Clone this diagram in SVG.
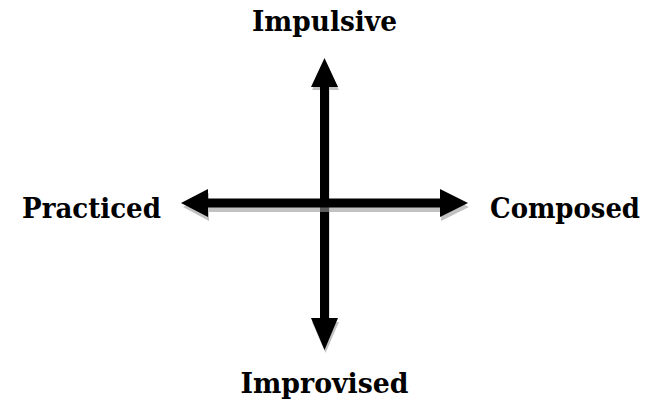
<svg xmlns="http://www.w3.org/2000/svg" width="656" height="408" viewBox="0 0 656 408">
<defs>
<style>
.lbl{font-family:"DejaVu Serif Condensed","DejaVu Serif","Liberation Serif",serif;font-stretch:condensed;font-weight:bold;font-size:28px;fill:#000}
.arr{fill:#000}
.shd{fill:#9a9a9a;opacity:0.6}
</style>
</defs>
<rect width="656" height="408" fill="#fff"/>
<g id="connectors">
<g id="vertical-arrow">
<path class="shd" d="M325.5 62 L339 90 L329.5 90 L329.5 322 L339 322 L325.5 353 L312 322 L321.5 322 L321.5 90 L312 90 Z"/>
<path class="arr" d="M324.5 58 L338 87 L329 87 L329 318 L338 318 L324.5 350 L311 318 L320 318 L320 87 L311 87 Z"/>
</g>
<g id="horizontal-arrow">
<path class="shd" d="M183 207 L209 193 L209 203 L441 203 L441 193 L469 207 L441 221 L441 212 L209 212 L209 221 Z"/>
<path class="arr" d="M181 203 L208 189 L208 198.5 L440 198.5 L440 189 L468 203 L440 217 L440 207.5 L208 207.5 L208 217 Z"/>
</g>
</g>
<g id="node-impulsive"><text class="lbl" x="324.5" y="31" text-anchor="middle" textLength="145" lengthAdjust="spacingAndGlyphs">Impulsive</text></g>
<g id="node-practiced"><text class="lbl" x="22" y="218" textLength="139" lengthAdjust="spacingAndGlyphs">Practiced</text></g>
<g id="node-composed"><text class="lbl" x="490" y="218" textLength="150" lengthAdjust="spacingAndGlyphs">Composed</text></g>
<g id="node-improvised"><text class="lbl" x="324.5" y="393" text-anchor="middle" textLength="168" lengthAdjust="spacingAndGlyphs">Improvised</text></g>
</svg>
